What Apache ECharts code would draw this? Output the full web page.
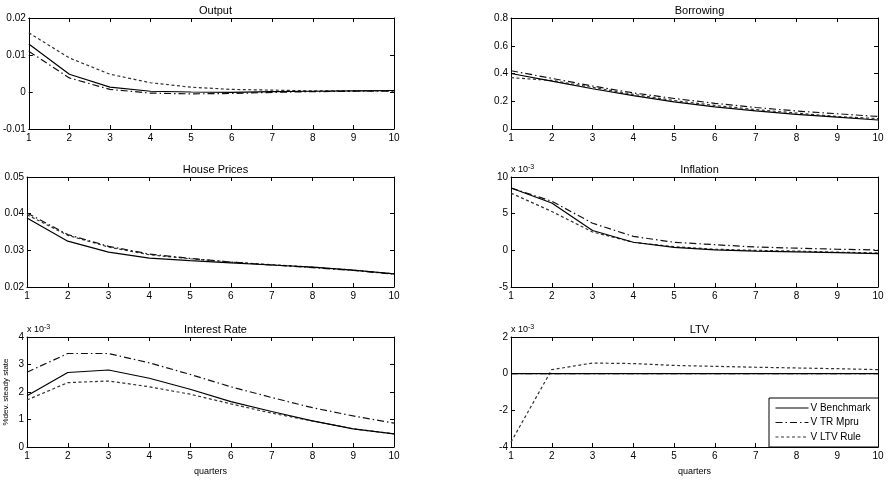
<!DOCTYPE html>
<html><head><meta charset="utf-8">
<script src="https://cdn.jsdelivr.net/npm/echarts@6/dist/echarts.min.js"></script>
<style>html,body{margin:0;padding:0;background:#fff}#c{width:890px;height:482px}</style>
</head><body><div id="c"></div>
<script>
const quarters = [1,2,3,4,5,6,7,8,9,10];
const seriesNames = ['V Benchmark','V TR Mpru','V LTV Rule'];
// Output
const outputBench = [0.013,0.0048,0.0013,0.0002,0.0000,-0.0001,0.0001,0.0002,0.0003,0.0004];
const outputTR    = [0.011,0.0038,0.0007,-0.0003,-0.0005,-0.0004,-0.0001,0.0001,0.0002,0.0002];
const outputLTV   = [0.016,0.0092,0.0048,0.0025,0.0013,0.0007,0.0005,0.0003,0.0003,0.0003];
// Borrowing
const borrowBench = [0.40,0.345,0.29,0.24,0.195,0.16,0.13,0.105,0.085,0.065];
const borrowTR    = [0.42,0.365,0.31,0.26,0.22,0.185,0.155,0.13,0.11,0.09];
const borrowLTV   = [0.37,0.35,0.30,0.25,0.205,0.17,0.14,0.115,0.09,0.075];
// House Prices
const houseBench = [0.0388,0.0325,0.0295,0.0279,0.0272,0.0266,0.0260,0.0254,0.0246,0.0236];
const houseTR    = [0.0402,0.0343,0.0311,0.0290,0.0278,0.0268,0.0260,0.0253,0.0245,0.0235];
const houseLTV   = [0.0397,0.0341,0.0309,0.0288,0.0277,0.0268,0.0261,0.0254,0.0246,0.0236];
// Inflation (x 10^-3)
const inflBench = [8.5,6.45,2.7,1.1,0.4,0.05,-0.1,-0.2,-0.3,-0.45];
const inflTR    = [8.5,6.7,3.7,1.9,1.1,0.77,0.45,0.3,0.15,0.05];
const inflLTV   = [7.8,5.3,2.5,1.1,0.5,0.15,0.0,-0.1,-0.25,-0.35];
// Interest Rate (x 10^-3)
const rateBench = [1.86,2.71,2.8,2.5,2.1,1.65,1.29,0.95,0.66,0.48];
const rateTR    = [2.72,3.4,3.4,3.06,2.64,2.19,1.8,1.43,1.13,0.87];
const rateLTV   = [1.71,2.34,2.4,2.19,1.92,1.57,1.23,0.95,0.66,0.48];
// LTV (x 10^-3)
const ltvBench = [0,0,0,0,0,0,0,0,0,0];
const ltvTR    = [0,0,0,0,0,0,0,0,0,0];
const ltvLTV   = [-3.73,0.22,0.58,0.55,0.45,0.4,0.35,0.31,0.27,0.22];

const panels = [
  {title:'Output', data:[outputBench,outputTR,outputLTV], min:-0.01, max:0.02, interval:0.01, left:27, top:18, h:111},
  {title:'Borrowing', data:[borrowBench,borrowTR,borrowLTV], min:0, max:0.8, interval:0.2, left:511, top:18, h:111},
  {title:'House Prices', data:[houseBench,houseTR,houseLTV], min:0.02, max:0.05, interval:0.01, left:27, top:177, h:110},
  {title:'Inflation', data:[inflBench,inflTR,inflLTV], min:-5, max:10, interval:5, left:511, top:177, h:110, exp:true},
  {title:'Interest Rate', data:[rateBench,rateTR,rateLTV], min:0, max:4, interval:1, left:27, top:337, h:110, exp:true, ylabel:'%dev. steady state', xlabel:'quarters'},
  {title:'LTV', data:[ltvBench,ltvTR,ltvLTV], min:-4, max:2, interval:2, left:511, top:337, h:110, exp:true, xlabel:'quarters'}
];
const W = 367;
const FONT = '"Liberation Sans", Arial, sans-serif';
const lineStyles = [
  {color:'#000', width:1.2, type:'solid'},
  {color:'#111', width:1.2, type:[7,3,1.5,3]},
  {color:'#333', width:1.2, type:[3,2.5]}
];

const grid=[], xAxis=[], yAxis=[], series=[], title=[], graphic=[];
panels.forEach((p,i)=>{
  grid.push({left:p.left, top:p.top, width:W, height:p.h, containLabel:false});
  const axLine = {show:true, onZero:false, lineStyle:{color:'#000', width:1}};
  const tick = {show:true, inside:true, length:4, lineStyle:{color:'#000'}};
  xAxis.push({gridIndex:i, type:'value', min:1, max:10, interval:1, position:'bottom',
    axisLine:axLine, axisTick:tick, splitLine:{show:false},
    axisLabel:{fontFamily:FONT, fontSize:10, color:'#000', margin:4},
    name:p.xlabel||'', nameLocation:'middle', nameGap:20, nameTextStyle:{fontFamily:FONT, fontSize:9, color:'#000'}});
  xAxis.push({gridIndex:i, type:'value', min:1, max:10, interval:1, position:'top',
    axisLine:axLine, axisTick:tick, splitLine:{show:false}, axisLabel:{show:false}});
  yAxis.push({gridIndex:i, type:'value', min:p.min, max:p.max, interval:p.interval, position:'left',
    axisLine:axLine, axisTick:tick, splitLine:{show:false},
    axisLabel:{fontFamily:FONT, fontSize:10, color:'#000', margin:3},
    name:p.ylabel||'', nameLocation:'middle', nameGap:17, nameRotate:90,
    nameTextStyle:{fontFamily:FONT, fontSize:8, color:'#000'}});
  yAxis.push({gridIndex:i, type:'value', min:p.min, max:p.max, interval:p.interval, position:'right',
    axisLine:axLine, axisTick:tick, splitLine:{show:false}, axisLabel:{show:false}});
  p.data.forEach((arr,k)=>{
    series.push({name:seriesNames[k], type:'line', xAxisIndex:2*i, yAxisIndex:2*i,
      data:quarters.map((q,j)=>[q,arr[j]]), showSymbol:false, symbol:'none',
      lineStyle:lineStyles[k], itemStyle:{color:lineStyles[k].color}, animation:false, z:3-k});
  });
  title.push({text:p.title, left:p.left+W/2, top:p.top-18, textAlign:'center',
    textStyle:{fontFamily:FONT, fontSize:11, fontWeight:'normal', color:'#000'}});
  if(p.exp){
    graphic.push({type:'text', left:p.left, top:p.top-13,
      style:{text:'x 10{s|-3}', font:'9px '+FONT, fill:'#000',
        rich:{s:{fontSize:7, fontFamily:FONT, verticalAlign:'top', padding:[0,0,5,0]}}}});
  }
});

const chart = echarts.init(document.getElementById('c'), null, {renderer:'canvas'});
chart.setOption({
  backgroundColor:'#fff',
  animation:false,
  title, grid, xAxis, yAxis, series, graphic,
  legend:{
    data:seriesNames.map(n=>({name:n})), orient:'vertical', left:769, top:398,
    backgroundColor:'#fff', borderColor:'#000', borderWidth:1,
    padding:[5,8,5,6], itemGap:4.5, itemWidth:33, itemHeight:10,
    itemStyle:{opacity:0},
    lineStyle:{width:1},
    textStyle:{fontFamily:FONT, fontSize:10, color:'#000', padding:[0,0,0,-3]},
    selectedMode:false
  }
});
</script>
</body></html>
